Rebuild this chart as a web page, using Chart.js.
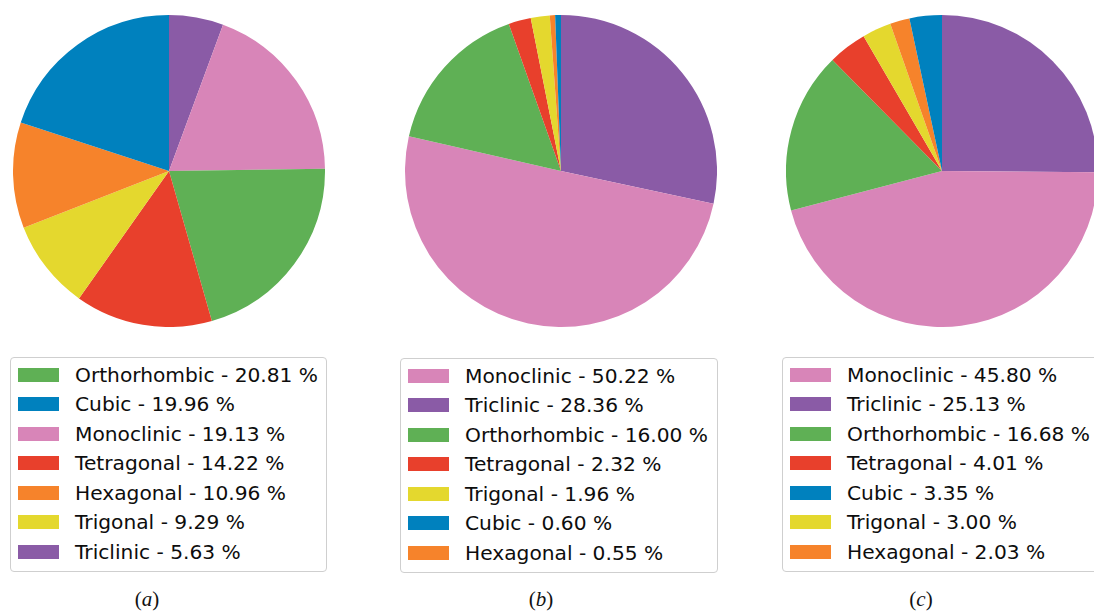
<!DOCTYPE html>
<html>
<head>
<meta charset="utf-8">
<script src="https://cdn.jsdelivr.net/npm/chart.js@4.4.1/dist/chart.umd.min.js"></script>
<style>
  html, body { margin: 0; padding: 0; background: #fff; }
  body { width: 1094px; height: 611px; overflow: hidden; position: relative; }
  .pie { position: absolute; top: 15px; width: 312px; height: 312px; }
  .legend {
    position: absolute; box-sizing: border-box;
    border: 1px solid #cfcfcf; border-radius: 4px; background: #fff;
    padding: 2px 0 4.5px 7px;
    font-family: "DejaVu Sans", sans-serif; font-size: 20.2px; color: #0d0d0d;
    white-space: nowrap;
  }
  .row { height: 29.5px; display: flex; align-items: center; }
  .sw { display: inline-block; width: 41px; height: 14px; margin-right: 16px; flex: none; }
  .cap {
    position: absolute; top: 587px; width: 60px; text-align: center;
    font-family: "Liberation Serif", "Times New Roman", serif; font-size: 21px; color: #111;
  }
  .cap i { font-style: italic; }
</style>
</head>
<body>
<canvas id="pieA" class="pie" width="312" height="312" style="left:13px"></canvas>
<canvas id="pieB" class="pie" width="312" height="312" style="left:405px"></canvas>
<canvas id="pieC" class="pie" width="312" height="312" style="left:786px"></canvas>

<div id="legA" class="legend" style="left:10px; top:357px; width:317px"></div>
<div id="legB" class="legend" style="left:400px; top:358px; width:318px"></div>
<div id="legC" class="legend" style="left:782px; top:357px; width:320px"></div>

<div class="cap" style="left:117px">(<i>a</i>)</div>
<div class="cap" style="left:511px">(<i>b</i>)</div>
<div class="cap" style="left:891px">(<i>c</i>)</div>

<script>
// Crystal systems, in the order the slices are drawn (clockwise from 12 o'clock)
const categories = ['Triclinic', 'Monoclinic', 'Orthorhombic', 'Tetragonal', 'Trigonal', 'Hexagonal', 'Cubic'];
const colors = ['#8a5ba6', '#d885b8', '#5fb055', '#e8402c', '#e4d82e', '#f6832b', '#0081be'];

// Share of each crystal system, in percent
const valuesA = [5.63, 19.13, 20.81, 14.22, 9.29, 10.96, 19.96];
const valuesB = [28.36, 50.22, 16.00, 2.32, 1.96, 0.55, 0.60];
const valuesC = [25.13, 45.80, 16.68, 4.01, 3.00, 2.03, 3.35];

function makePie(canvasId, legendId, values) {
  const chart = new Chart(document.getElementById(canvasId), {
    type: 'pie',
    data: {
      labels: categories,
      datasets: [{
        data: values,
        backgroundColor: colors,
        borderWidth: 0,
        hoverOffset: 0,
        offset: 0
      }]
    },
    options: {
      responsive: false,
      animation: false,
      events: [],
      layout: { padding: 0 },
      plugins: {
        legend: { display: false },
        tooltip: { enabled: false }
      }
    }
  });

  // Legend: entries sorted by share, largest first
  const items = chart.data.labels.map((name, i) => ({
    name, value: chart.data.datasets[0].data[i], color: chart.data.datasets[0].backgroundColor[i]
  })).sort((a, b) => b.value - a.value);

  const box = document.getElementById(legendId);
  items.forEach(it => {
    const row = document.createElement('div');
    row.className = 'row';
    const sw = document.createElement('span');
    sw.className = 'sw';
    sw.style.background = it.color;
    const lbl = document.createElement('span');
    lbl.textContent = it.name + ' - ' + it.value.toFixed(2) + ' %';
    row.appendChild(sw);
    row.appendChild(lbl);
    box.appendChild(row);
  });
  return chart;
}

makePie('pieA', 'legA', valuesA);
makePie('pieB', 'legB', valuesB);
makePie('pieC', 'legC', valuesC);
</script>
</body>
</html>
